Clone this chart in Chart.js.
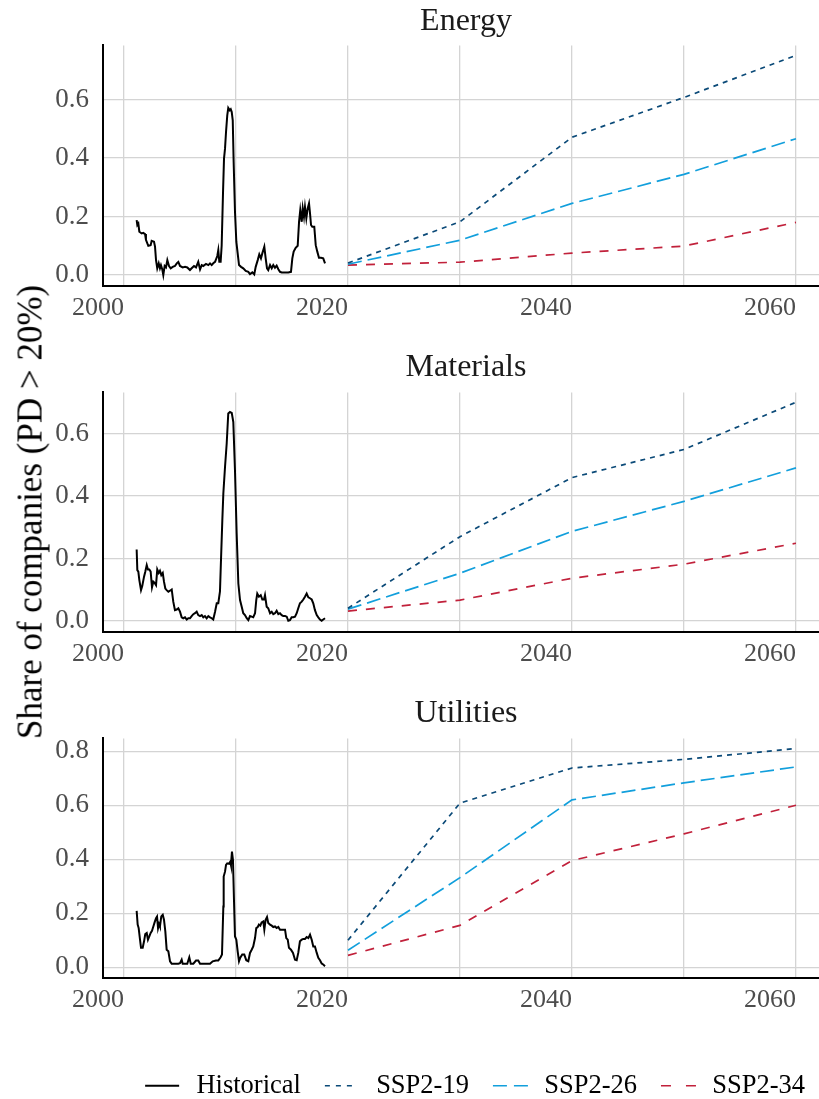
<!DOCTYPE html>
<html><head><meta charset="utf-8">
<script src="https://cdn.jsdelivr.net/npm/chart.js@4.4.1/dist/chart.umd.min.js"></script>
<style>
html,body{margin:0;padding:0;background:#fff;}
body{width:819px;height:1099px;position:relative;overflow:hidden;}
.wrap{position:absolute;left:0;width:829px;}
canvas{display:block;}
#ytitle{position:absolute;left:30px;top:512px;transform:translate(-50%,-50%) rotate(-90deg);white-space:nowrap;
  font-family:'Liberation Serif','Times New Roman',serif;font-size:35px;color:#000;line-height:1;}
</style></head><body>
<div class="wrap" style="top:0;height:346px"><canvas id="c0" width="829" height="346"></canvas></div>
<div class="wrap" style="top:346px;height:346px"><canvas id="c1" width="829" height="346"></canvas></div>
<div class="wrap" style="top:692px;height:417px"><canvas id="c2" width="829" height="417"></canvas></div>
<div id="ytitle"></div>
<script>
// ---------- data ----------
const panelTitles = ['Energy', 'Materials', 'Utilities'];
const seriesNames = ['Historical', 'SSP2-19', 'SSP2-26', 'SSP2-34'];
const yAxisTitle = 'Share of companies (PD > 20%)';
const projYears = [2020, 2030, 2040, 2050, 2060];
const xGridYears = [2000, 2010, 2020, 2030, 2040, 2050, 2060];
const xLabelYears = [2000, 2020, 2040, 2060];

const energyHistYears = [2001.13,2001.19,2001.28,2001.37,2001.58,2001.72,2001.88,2001.96,
2002.17,2002.38,2002.47,2002.68,2002.77,2002.86,2002.97,
2003.10,2003.21,2003.30,2003.42,2003.51,2003.63,2003.75,2003.87,
2004.02,2004.17,2004.35,2004.55,2004.71,2004.85,
2005.00,2005.24,2005.45,2005.65,2005.89,
2006.04,2006.25,2006.43,2006.63,2006.79,2006.94,
2007.08,2007.32,2007.53,2007.68,2007.83,2007.97,
2008.13,2008.33,2008.42,2008.51,2008.63,2008.72,2008.84,2008.93,
2009.02,2009.11,2009.22,2009.31,2009.44,2009.53,2009.62,2009.71,2009.79,2009.91,
2010.03,2010.15,2010.27,2010.45,2010.65,2010.87,
2011.10,2011.25,2011.46,2011.63,2011.76,2011.94,
2012.08,2012.23,2012.35,2012.53,2012.65,2012.77,2012.88,
2013.04,2013.19,2013.33,2013.48,2013.63,2013.78,2013.93,
2014.08,2014.38,2014.67,2014.91,
2015.03,2015.15,2015.33,2015.51,2015.63,2015.74,2015.87,2015.96,
2016.07,2016.16,2016.28,2016.40,2016.52,2016.61,2016.70,2016.81,2016.99,
2017.12,2017.26,2017.41,2017.59,2017.79,2017.95];
const energyHist = [0.188,0.171,0.176,0.148,0.142,0.144,0.140,0.120,
0.100,0.102,0.117,0.114,0.097,0.051,0.023,
0.040,0.023,0.034,0.019,0.000,0.031,0.026,0.051,
0.031,0.023,0.028,0.031,0.040,0.045,
0.031,0.026,0.028,0.026,0.017,
0.023,0.031,0.026,0.045,0.019,0.034,
0.031,0.038,0.034,0.040,0.034,0.040,
0.045,0.065,0.085,0.045,0.045,0.100,0.280,0.398,
0.432,0.489,0.546,0.571,0.563,0.567,0.557,0.529,0.387,0.216,
0.114,0.074,0.034,0.028,0.023,0.014,
0.011,0.003,0.009,0.002,0.028,0.051,
0.071,0.057,0.074,0.097,0.057,0.023,0.017,
0.034,0.023,0.034,0.025,0.032,0.020,0.011,
0.009,0.009,0.009,0.011,
0.057,0.080,0.093,0.100,0.182,0.222,0.182,0.228,
0.199,0.233,0.194,0.228,0.245,0.211,0.171,0.165,0.165,
0.102,0.080,0.059,0.059,0.057,0.040];
const energySSP19 = [0.041, 0.182, 0.471, 0.607, 0.751];
const energySSP26 = [0.037, 0.119, 0.245, 0.344, 0.466];
const energySSP34 = [0.034, 0.044, 0.075, 0.099, 0.180];

const materialsHistYears = [2001.13,2001.19,2001.28,2001.37,2001.52,2001.63,2001.79,2001.90,
2002.03,2002.14,2002.26,2002.38,2002.50,2002.62,2002.74,2002.86,2002.97,
2003.10,2003.21,2003.33,2003.46,2003.57,2003.69,2003.81,2003.96,
2004.11,2004.26,2004.40,2004.55,2004.71,2004.85,
2005.00,2005.15,2005.29,2005.45,2005.60,2005.74,2005.89,
2006.04,2006.19,2006.34,2006.49,2006.63,2006.79,2006.94,
2007.08,2007.23,2007.38,2007.53,2007.68,2007.83,2007.97,
2008.13,2008.28,2008.42,2008.57,2008.66,2008.78,2008.87,
2009.02,2009.17,2009.31,2009.46,2009.62,2009.76,2009.91,
2010.06,2010.21,2010.36,2010.51,2010.65,2010.80,2010.96,
2011.10,2011.25,2011.40,2011.54,2011.70,2011.81,2011.90,
2012.05,2012.21,2012.35,2012.50,2012.59,2012.74,2012.88,
2013.04,2013.19,2013.33,2013.48,2013.63,2013.78,2013.93,
2014.08,2014.22,2014.38,2014.53,2014.67,2014.82,2014.97,
2015.12,2015.27,2015.42,2015.56,2015.71,2015.87,
2016.01,2016.16,2016.31,2016.46,2016.61,2016.76,2016.90,
2017.05,2017.21,2017.35,2017.50,2017.65,2017.79,2017.95];
const materialsHist = [0.229,0.163,0.158,0.131,0.099,0.112,0.142,0.158,
0.179,0.165,0.165,0.158,0.108,0.126,0.122,0.115,0.165,
0.154,0.161,0.147,0.154,0.126,0.104,0.099,0.094,
0.097,0.101,0.062,0.035,0.037,0.041,
0.030,0.012,0.009,0.012,0.005,0.009,0.009,
0.016,0.022,0.025,0.030,0.019,0.016,0.019,
0.012,0.016,0.009,0.016,0.012,0.009,0.005,
0.030,0.057,0.057,0.095,0.195,0.323,0.408,
0.493,0.568,0.664,0.669,0.666,0.637,0.482,
0.280,0.120,0.067,0.046,0.025,0.019,0.009,
0.003,0.016,0.014,0.012,0.025,0.067,0.088,
0.078,0.083,0.069,0.069,0.083,0.046,0.041,
0.025,0.030,0.022,0.025,0.033,0.022,0.025,
0.019,0.016,0.016,0.014,0.001,0.003,0.012,
0.012,0.014,0.025,0.041,0.057,0.062,
0.069,0.078,0.088,0.076,0.073,0.069,0.057,
0.035,0.019,0.012,0.005,0.001,0.005,0.009];
const materialsSSP19 = [0.041, 0.270, 0.459, 0.549, 0.700];
const materialsSSP26 = [0.038, 0.153, 0.287, 0.383, 0.490];
const materialsSSP34 = [0.032, 0.067, 0.137, 0.182, 0.249];

const utilitiesHistYears = [2001.13,2001.22,2001.31,2001.43,2001.52,2001.67,2001.79,2001.90,
2002.03,2002.14,2002.26,2002.38,2002.50,2002.62,2002.74,2002.86,2002.95,
2003.04,2003.13,2003.21,2003.33,2003.46,2003.57,2003.69,2003.81,2003.96,
2004.11,2004.26,2004.55,2004.85,
2005.00,2005.15,2005.24,2005.45,2005.65,2005.83,2005.96,
2006.19,2006.43,2006.63,2006.79,
2007.08,2007.38,2007.68,2007.92,
2008.21,2008.42,2008.63,2008.75,2008.87,2008.90,
2009.02,2009.11,2009.22,2009.38,2009.49,2009.55,2009.64,2009.73,2009.82,2009.91,
2010.03,2010.15,2010.27,2010.38,2010.56,2010.74,2010.92,
2011.10,2011.25,2011.40,2011.54,2011.70,2011.81,2011.94,
2012.05,2012.17,2012.29,2012.44,2012.53,2012.65,2012.77,2012.88,
2013.04,2013.19,2013.33,2013.48,2013.63,2013.78,2013.93,
2014.08,2014.22,2014.38,2014.49,2014.62,2014.73,2014.91,
2015.09,2015.27,2015.42,2015.56,2015.71,2015.87,
2016.01,2016.16,2016.31,2016.46,2016.61,2016.76,2016.90,
2017.05,2017.21,2017.35,2017.50,2017.65,2017.79,2017.95];
const utilitiesHist = [0.209,0.158,0.145,0.102,0.072,0.072,0.096,0.123,
0.127,0.102,0.114,0.127,0.135,0.151,0.167,0.182,0.188,
0.145,0.160,0.151,0.188,0.194,0.176,0.133,0.065,0.059,
0.022,0.013,0.013,0.013,
0.015,0.028,0.013,0.013,0.013,0.037,0.013,
0.013,0.025,0.025,0.013,
0.013,0.013,0.013,0.022,
0.025,0.025,0.037,0.047,0.225,0.336,
0.354,0.379,0.385,0.383,0.391,0.379,0.428,0.397,0.250,0.114,
0.102,0.059,0.022,0.035,0.047,0.047,0.026,
0.022,0.053,0.065,0.077,0.108,0.145,0.149,
0.158,0.154,0.166,0.170,0.139,0.176,0.186,0.164,
0.158,0.154,0.149,0.151,0.145,0.149,0.139,
0.139,0.139,0.139,0.108,0.102,0.072,0.065,
0.053,0.028,0.026,0.053,0.096,0.102,
0.105,0.105,0.112,0.108,0.121,0.102,0.077,
0.077,0.053,0.035,0.026,0.014,0.010,0.004];
const utilitiesSSP19 = [0.100, 0.608, 0.738, 0.770, 0.810];
const utilitiesSSP26 = [0.063, 0.332, 0.620, 0.683, 0.742];
const utilitiesSSP34 = [0.044, 0.155, 0.395, 0.494, 0.600];

const energyYTicks = [0, 0.1, 0.2, 0.3, 0.4, 0.5, 0.6, 0.7];
const materialsYTicks = [0, 0.1, 0.2, 0.3, 0.4, 0.5, 0.6, 0.7];
const utilitiesYTicks = [0, 0.1, 0.2, 0.3, 0.4, 0.5, 0.6, 0.7, 0.8];
const yLabelTicks = [0, 0.2, 0.4, 0.6, 0.8];

// ---------- styling ----------
const SERIF = "'Liberation Serif', 'Times New Roman', serif";
const colHist = '#000000', col19 = '#0b4a78', col26 = '#129fdc', col34 = '#c1213b';
const dash19 = [5, 5], dash26 = [14, 6], dash34 = [9, 9];
// legend key patterns (visible part, then a long gap so only one key segment shows)
const keyDash = [[34, 300], [5, 6, 5, 6, 5, 300], [14, 7, 14, 300], [10, 15, 10, 300]];
const GRID = '#d4d4d4';

document.getElementById('ytitle').textContent = yAxisTitle;

const panels = [
  {id: 'c0', title: panelTitles[0], hx: energyHistYears, hy: energyHist, s19: energySSP19, s26: energySSP26, s34: energySSP34, yticks: energyYTicks, ymin: -0.0375, ymax: 0.785, pt: 2, pb: 5, xh: 60, legend: false},
  {id: 'c1', title: panelTitles[1], hx: materialsHistYears, hy: materialsHist, s19: materialsSSP19, s26: materialsSSP26, s34: materialsSSP34, yticks: materialsYTicks, ymin: -0.035, ymax: 0.7316, pt: 2, pb: 6, xh: 60, legend: false},
  {id: 'c2', title: panelTitles[2], hx: utilitiesHistYears, hy: utilitiesHist, s19: utilitiesSSP19, s26: utilitiesSSP26, s34: utilitiesSSP34, yticks: utilitiesYTicks, ymin: -0.038, ymax: 0.8476, pt: 2, pb: 6, xh: 71, legend: true}
];

function pts(xs, ys) { return xs.map((x, i) => ({x: x, y: ys[i]})); }

panels.forEach(p => {
  new Chart(document.getElementById(p.id), {
    type: 'line',
    data: {
      datasets: [
        {label: seriesNames[0], data: pts(p.hx, p.hy), borderColor: colHist, backgroundColor: colHist, borderWidth: 2, borderDash: [], pointRadius: 0, tension: 0},
        {label: seriesNames[1], data: pts(projYears, p.s19), borderColor: col19, backgroundColor: col19, borderWidth: 1.7, borderDash: dash19, pointRadius: 0, tension: 0},
        {label: seriesNames[2], data: pts(projYears, p.s26), borderColor: col26, backgroundColor: col26, borderWidth: 1.7, borderDash: dash26, pointRadius: 0, tension: 0},
        {label: seriesNames[3], data: pts(projYears, p.s34), borderColor: col34, backgroundColor: col34, borderWidth: 1.7, borderDash: dash34, pointRadius: 0, tension: 0}
      ]
    },
    options: {
      responsive: false,
      animation: false,
      events: [],
      layout: {padding: {left: 0, right: 0, top: 0, bottom: 0}},
      plugins: {
        title: {display: true, fullSize: false, text: p.title, color: '#1a1a1a', font: {family: SERIF, size: 32, weight: 'normal'}, padding: {top: p.pt, bottom: p.pb}},
        tooltip: {enabled: false},
        legend: {
          display: p.legend, position: 'bottom', align: 'end',
          labels: {
            usePointStyle: true, pointStyle: 'line', pointStyleWidth: 38, boxHeight: 20,
            padding: 24, color: '#000', font: {family: SERIF, size: 26.5},
            generateLabels: chart => chart.data.datasets.map((ds, i) => ({
              text: ds.label, fillStyle: ds.borderColor, strokeStyle: ds.borderColor,
              lineWidth: ds.borderWidth, lineDash: keyDash[i], pointStyle: 'line',
              fontColor: '#000', hidden: false, datasetIndex: i
            }))
          }
        }
      },
      scales: {
        x: {
          type: 'linear', min: 1998.125, max: 2062.95,
          afterBuildTicks: s => { s.ticks = xGridYears.map(v => ({value: v})); },
          afterFit: s => { s.height = p.xh; },
          grid: {color: GRID, lineWidth: 1.3, drawTicks: false},
          border: {display: true, color: '#000', width: 2},
          ticks: {align: 'end', autoSkip: false, maxRotation: 0, padding: 7, color: '#4d4d4d',
            font: {family: SERIF, size: 26},
            callback: v => xLabelYears.includes(Math.round(v)) ? String(Math.round(v)) : ''}
        },
        y: {
          type: 'linear', min: p.ymin, max: p.ymax,
          afterBuildTicks: s => { s.ticks = p.yticks.map(v => ({value: v})); },
          afterFit: s => { s.width = 103; },
          grid: {color: GRID, lineWidth: 1.3, drawTicks: false},
          border: {display: true, color: '#000', width: 2},
          ticks: {padding: 14, color: '#4d4d4d', font: {family: SERIF, size: 27},
            callback: v => yLabelTicks.some(t => Math.abs(t - v) < 1e-6) ? v.toFixed(1) : ''}
        }
      }
    }
  });
});
</script>
</body></html>
